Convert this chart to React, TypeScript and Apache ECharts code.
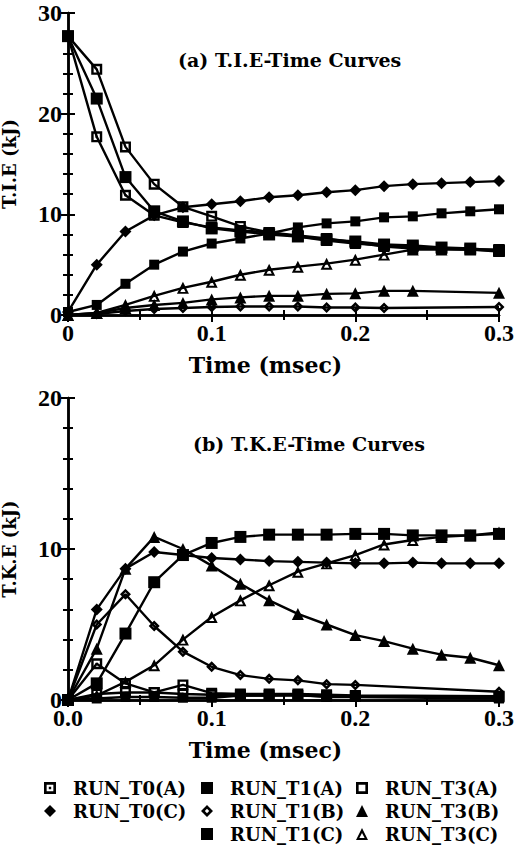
import React, { useEffect, useRef } from "react";
import * as echarts from "echarts";

const times = [0, 0.02, 0.04, 0.06, 0.08, 0.1, 0.12, 0.14, 0.16, 0.18, 0.2, 0.22, 0.24, 0.26, 0.28, 0.3];

const seriesNames = ["RUN_T0(A)", "RUN_T0(C)", "RUN_T1(A)", "RUN_T1(B)", "RUN_T1(C)", "RUN_T3(A)", "RUN_T3(B)", "RUN_T3(C)"];

// (a) T.I.E (kJ)
const tieT0A = [27.7, 17.7, 11.9, 9.9, 9.2, 8.7, 8.4, 8.2, 7.8, 7.4, 7.1, 6.9, 6.8, 6.6, 6.5, 6.3];
const tieT0C = [0.3, 5.0, 8.3, 9.9, 10.7, 11.0, 11.3, 11.7, 11.9, 12.2, 12.4, 12.8, 13.0, 13.1, 13.2, 13.3];
const tieT1A = [27.7, 21.5, 13.7, 10.3, 9.3, 8.6, 8.3, 8.0, 7.8, 7.5, 7.3, 7.0, 6.9, 6.7, 6.6, 6.4];
const tieT1B = [0, 0.1, 0.4, 0.6, 0.7, 0.8, 0.85, 0.85, 0.85, 0.75, 0.75, 0.7, null, null, null, 0.8];
const tieT1C = [0.3, 1.0, 3.1, 5.0, 6.3, 7.1, 7.6, 8.1, 8.7, 9.1, 9.3, 9.7, 9.8, 10.1, 10.3, 10.5];
const tieT3A = [27.7, 24.4, 16.7, 13.0, 10.75, 9.8, 8.8, 8.2, 7.9, 7.6, 7.2, 6.8, 6.6, 6.6, 6.5, 6.5];
const tieT3B = [0, 0.2, 0.7, 1.0, 1.2, 1.55, 1.75, 1.9, 1.9, 2.1, 2.15, 2.4, 2.4, null, null, 2.2];
const tieT3C = [0, 0.2, 1.0, 1.9, 2.7, 3.3, 4.0, 4.5, 4.8, 5.1, 5.5, 6.0, 6.5, 6.5, 6.5, 6.4];

// (b) T.K.E (kJ)
const tkeT0A = [0, 2.4, 1.1, 0.5, 0.4, 0.35, 0.3, 0.3, 0.3, 0.25, 0.25, null, null, null, null, 0.2];
const tkeT0C = [0, 6.0, 8.7, 9.8, 9.6, 9.4, 9.3, 9.2, 9.15, 9.1, 9.05, 9.05, 9.1, 9.05, 9.05, 9.05];
const tkeT1A = [0, 1.1, 4.4, 7.8, 9.6, 10.4, 10.8, 10.95, 10.95, 10.95, 11.0, 11.0, 10.9, 10.9, 10.9, 11.0];
const tkeT1B = [0, 5.0, 7.0, 4.9, 3.2, 2.2, 1.65, 1.4, 1.3, 1.05, 1.0, null, null, null, null, 0.55];
const tkeT1C = [0, 0.1, 0.2, 0.2, 0.15, 0.15, 0.3, 0.3, 0.35, 0.2, 0.2, null, null, null, null, 0.1];
const tkeT3A = [0, 0.4, 0.5, 0.5, 1.0, 0.45, 0.4, 0.4, 0.4, 0.35, 0.3, null, null, null, null, 0.25];
const tkeT3B = [0, 3.4, 8.7, 10.8, 10.0, 8.9, 7.7, 6.6, 5.7, 5.0, 4.3, 3.9, 3.4, 3.0, 2.8, 2.3];
const tkeT3C = [0, 0.3, 1.2, 2.3, 4.0, 5.5, 6.6, 7.6, 8.5, 9.05, 9.6, 10.3, 10.6, 10.8, 10.9, 11.1];

const tieSeries = [tieT0A, tieT0C, tieT1A, tieT1B, tieT1C, tieT3A, tieT3B, tieT3C];
const tkeSeries = [tkeT0A, tkeT0C, tkeT1A, tkeT1B, tkeT1C, tkeT3A, tkeT3B, tkeT3C];

const xTicksTop = ["0", "0.1", "0.2", "0.3"];
const xTicksBottom = ["0.0", "0.1", "0.2", "0.3"];

const SQ_DOT = "path://M0,0H10V10H0Z M2.2,2.2V7.8H7.8V2.2Z M4,4H6V6H4Z";
const DIA_DOT = "path://M5,0L10,5L5,10L0,5Z M5,3.2L3.2,5L5,6.8L6.8,5Z";
const SQ_HOLLOW = "path://M0,0H10V10H0Z M2.2,2.2V7.8H7.8V2.2Z";
const TRI_HOLLOW = "path://M5,0L10,10H0Z M5,4.2L2.8,8.4H7.2Z";

const symbols = [SQ_DOT, "diamond", "rect", DIA_DOT, "rect", SQ_HOLLOW, "triangle", TRI_HOLLOW];
const symbolSizes = [11, 12, 12, 11, 10, 11, 12, 12];

const SERIF = "DejaVu Serif";
const TIMES = "Liberation Serif";

function App() {
  const ref = useRef<HTMLDivElement>(null);

  useEffect(() => {
    if (!ref.current) return;
    const chart = echarts.init(ref.current, null, { renderer: "svg" });

    const axisLine = { show: true, lineStyle: { color: "#000", width: 2.5 } };
    const tick = { show: true, inside: true, length: 7, lineStyle: { color: "#000", width: 2 } };
    const minor = (n: number) => ({ show: true, splitNumber: n, length: 5, lineStyle: { color: "#000", width: 2 } });
    const label = { color: "#000", fontFamily: TIMES, fontWeight: "bold", fontSize: 24 };
    const xNameStyle = { color: "#000", fontFamily: SERIF, fontWeight: "bold", fontSize: 22 };
    const yNameStyle = { color: "#000", fontFamily: SERIF, fontWeight: "bold", fontSize: 18 };

    const xAxisFor = (grid: number, ticks: string[]) => [
      {
        gridIndex: grid, type: "value", min: 0, max: 0.3, interval: 0.1, position: "bottom",
        axisLine, axisTick: tick, minorTick: minor(2), splitLine: { show: false },
        axisLabel: { ...label, margin: 6, formatter: (v: number) => ticks[Math.round(v * 10)] },
        name: "Time (msec)", nameLocation: "middle", nameGap: 39,
        nameTextStyle: { ...xNameStyle, padding: [0, 36, 0, 0] },
      },
      {
        gridIndex: grid, type: "value", min: 0, max: 0.3, interval: 0.1, position: "top",
        axisLine, axisTick: tick, minorTick: minor(2), splitLine: { show: false },
        axisLabel: { show: false },
      },
    ];
    const yAxisFor = (grid: number, max: number, name: string) => [
      {
        gridIndex: grid, type: "value", min: 0, max, interval: 10, position: "left",
        axisLine, axisTick: tick, minorTick: minor(5), splitLine: { show: false },
        axisLabel: { ...label, margin: 6 },
        name, nameLocation: "middle", nameGap: 50, nameTextStyle: yNameStyle,
      },
      {
        gridIndex: grid, type: "value", min: 0, max, interval: 10, position: "right",
        axisLine, axisTick: tick, minorTick: minor(5), splitLine: { show: false },
        axisLabel: { show: false },
      },
    ];

    const makeSeries = (grid: number, data: (number | null)[][]) =>
      data.map((arr, k) => ({
        type: "line",
        name: seriesNames[k],
        xAxisIndex: grid * 2,
        yAxisIndex: grid * 2,
        data: times.map((t, i) => [t, arr[i]]).filter((p) => p[1] !== null),
        symbol: symbols[k],
        symbolSize: symbolSizes[k],
        showAllSymbol: true,
        lineStyle: { color: "#000", width: 2.4 },
        itemStyle: { color: "#000" },
        emphasis: { disabled: true },
      }));

    const legendCommon = {
      orient: "vertical",
      padding: 0,
      height: 90,
      itemWidth: 12,
      itemHeight: 12,
      itemGap: 3,
      selectedMode: false,
      textStyle: { color: "#000", fontFamily: SERIF, fontWeight: "bold", fontSize: 18, lineHeight: 20, padding: [0, 0, 0, 12] },
    };
    const legendItem = (k: number) => ({ name: seriesNames[k], icon: symbols[k] });

    chart.setOption({
      animation: false,
      backgroundColor: "#fff",
      grid: [
        { left: 68, top: 13, width: 431, height: 302, outerBoundsMode: "none", containLabel: false },
        { left: 68, top: 398, width: 431, height: 302, outerBoundsMode: "none", containLabel: false },
      ],
      xAxis: [...xAxisFor(0, xTicksTop), ...xAxisFor(1, xTicksBottom)],
      yAxis: [...yAxisFor(0, 30, "T.I.E (kJ)"), ...yAxisFor(1, 20, "T.K.E (kJ)")],
      legend: [
        { ...legendCommon, left: 44, top: 778, data: [0, 1].map(legendItem) },
        { ...legendCommon, left: 201, top: 778, data: [2, 3, 4].map(legendItem) },
        { ...legendCommon, left: 356, top: 778, data: [5, 6, 7].map(legendItem) },
      ],
      graphic: [
        {
          type: "text", left: 178, top: 50,
          style: { text: "(a) T.I.E-Time Curves", fill: "#000", fontFamily: SERIF, fontWeight: "bold", fontSize: 19 },
        },
        {
          type: "text", left: 193, top: 434,
          style: { text: "(b) T.K.E-Time Curves", fill: "#000", fontFamily: SERIF, fontWeight: "bold", fontSize: 19 },
        },
      ],
      series: [...makeSeries(0, tieSeries), ...makeSeries(1, tkeSeries)],
    });

    return () => chart.dispose();
  }, []);

  return (
    <div
      ref={ref}
      style={{ position: "fixed", left: 0, top: 0, width: 515, height: 851, background: "#fff" }}
    />
  );
}

export default App;
